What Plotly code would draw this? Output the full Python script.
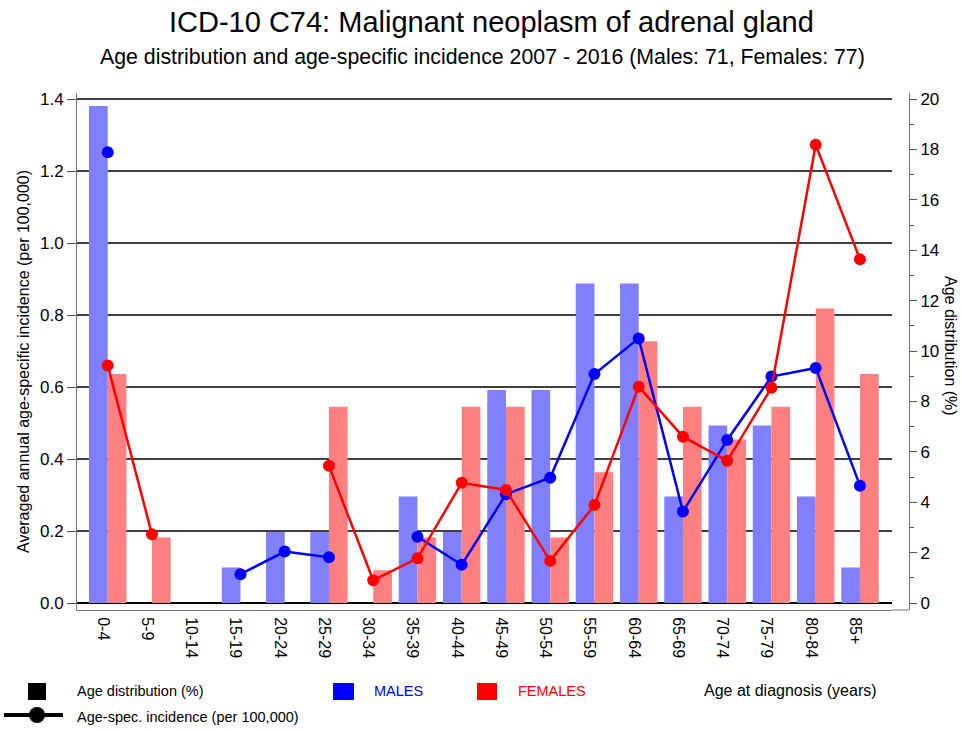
import plotly.graph_objects as go

# ---------------- data ----------------
age_groups = ["0-4", "5-9", "10-14", "15-19", "20-24", "25-29", "30-34", "35-39",
              "40-44", "45-49", "50-54", "55-59", "60-64", "65-69", "70-74",
              "75-79", "80-84", "85+"]

# age distribution (%)  -> right axis
male_dist = [19.72, 0, 0, 1.41, 2.82, 2.82, 0, 4.23, 2.82, 8.45, 8.45,
             12.68, 12.68, 4.23, 7.04, 7.04, 4.23, 1.41]
female_dist = [9.09, 2.60, 0, 0, 0, 7.79, 1.30, 2.60, 7.79, 7.79, 2.60,
               5.19, 10.39, 7.79, 6.49, 7.79, 11.69, 9.09]

# averaged annual age-specific incidence (per 100,000) -> left axis
male_inc = [1.252, None, None, 0.080, 0.143, 0.127, None, 0.184, 0.106, 0.302,
            0.348, 0.636, 0.735, 0.254, 0.453, 0.629, 0.653, 0.326]
female_inc = [0.660, 0.191, None, None, None, 0.381, 0.063, 0.124, 0.334, 0.314,
              0.117, 0.272, 0.601, 0.462, 0.395, 0.598, 1.273, 0.955]

inc_ticks = [0.0, 0.2, 0.4, 0.6, 0.8, 1.0, 1.2, 1.4]
dist_ticks = [0, 2, 4, 6, 8, 10, 12, 14, 16, 18, 20]

title_text = "ICD-10 C74: Malignant neoplasm of adrenal gland"
subtitle_text = "Age distribution and age-specific incidence 2007 - 2016 (Males: 71, Females: 77)"

# ---------------- geometry helpers (pixels -> paper) ----------------
W, H = 962, 731
ML, MR, MT, MB = 77, 53, 93, 121
PW, PH = W - ML - MR, H - MT - MB


def px(xp):
    return (xp - ML) / PW


def py(yp):
    return (H - MB - yp) / PH


FONT = "Liberation Sans, Arial, Helvetica, sans-serif"
BLUE_BAR, RED_BAR = "#8080FF", "#FF8080"
BLUE, RED = "#0000FF", "#FF0000"

fig = go.Figure()

fig.add_trace(go.Bar(x=age_groups, y=male_dist, name="MALES", marker_color=BLUE_BAR,
                     marker_line_width=0, yaxis="y", showlegend=False))
fig.add_trace(go.Bar(x=age_groups, y=female_dist, name="FEMALES", marker_color=RED_BAR,
                     marker_line_width=0, yaxis="y", showlegend=False))

fig.add_trace(go.Scatter(x=age_groups, y=male_inc, mode="lines+markers", yaxis="y2",
                         line=dict(color=BLUE, width=2.5), marker=dict(color=BLUE, size=12),
                         connectgaps=False, showlegend=False))
fig.add_trace(go.Scatter(x=age_groups, y=female_inc, mode="lines+markers", yaxis="y2",
                         line=dict(color=RED, width=2.5), marker=dict(color=RED, size=12),
                         connectgaps=False, showlegend=False))

x_dom_end = px(892)
inc_lo, inc_hi = -7 / 360, (603 - 93) / 360
k = 20 / 1.4

fig.update_layout(
    width=W, height=H,
    margin=dict(l=ML, r=MR, t=MT, b=MB, pad=0, autoexpand=False),
    paper_bgcolor="white", plot_bgcolor="white",
    font=dict(family=FONT, color="black", size=16),
    barmode="group", bargap=0.155, bargroupgap=0,
    showlegend=False,
    xaxis=dict(domain=[0, x_dom_end], type="category", range=[-0.694, -0.694 + 815 / 44.25],
               tickangle=90, ticks="", showgrid=False, zeroline=False, automargin=False,
               showline=True, linecolor="#777777", linewidth=1,
               ticklabelshift=-5, ticklabelstandoff=3,
               tickfont=dict(size=16), anchor="y2"),
    yaxis=dict(side="right", anchor="free", position=1.0, automargin=False,
               range=[inc_lo * k, inc_hi * k],
               tickvals=dist_ticks, ticks="outside", ticklen=7, tickcolor="#555555",
               minor=dict(dtick=1, ticks="outside", ticklen=4, tickcolor="#555555", showgrid=False),
               showgrid=False, zeroline=False, showline=True, linecolor="#777777", linewidth=1,
               tickfont=dict(size=17)),
    yaxis2=dict(side="left", overlaying="y", anchor="x", automargin=False,
                range=[inc_lo, inc_hi], tickvals=inc_ticks, tickformat=".1f",
                ticks="outside", ticklen=9, tickcolor="#555555",
                showgrid=True, gridcolor="#404040", gridwidth=1.5,
                zeroline=True, zerolinecolor="black", zerolinewidth=1.5,
                showline=True, linecolor="#777777", linewidth=1,
                tickfont=dict(size=17)),
)

annotations = [
    dict(text=title_text, x=px(491), y=py(22), xref="paper", yref="paper",
         showarrow=False, xanchor="center", yanchor="middle", font=dict(size=29)),
    dict(text=subtitle_text, x=px(482), y=py(57), xref="paper", yref="paper",
         showarrow=False, xanchor="center", yanchor="middle", font=dict(size=21.3)),
    dict(text="Averaged annual age-specific incidence (per 100,000)", x=px(23), y=py(362),
         xref="paper", yref="paper", showarrow=False, textangle=-90,
         xanchor="center", yanchor="middle", font=dict(size=16)),
    dict(text="Age distribution (%)", x=px(951), y=py(346), xref="paper", yref="paper",
         showarrow=False, textangle=90, xanchor="center", yanchor="middle", font=dict(size=16)),
    dict(text="Age distribution (%)", x=px(75), y=py(691), xref="paper", yref="paper",
         showarrow=False, xanchor="left", yanchor="middle", font=dict(size=14.5)),
    dict(text="Age-spec. incidence (per 100,000)", x=px(75), y=py(717), xref="paper", yref="paper",
         showarrow=False, xanchor="left", yanchor="middle", font=dict(size=14.5)),
    dict(text="MALES", x=px(372), y=py(691), xref="paper", yref="paper",
         showarrow=False, xanchor="left", yanchor="middle", font=dict(size=14.5, color=BLUE)),
    dict(text="FEMALES", x=px(516), y=py(691), xref="paper", yref="paper",
         showarrow=False, xanchor="left", yanchor="middle", font=dict(size=14.5, color=RED)),
    dict(text="Age at diagnosis (years)", x=px(702), y=py(690), xref="paper", yref="paper",
         showarrow=False, xanchor="left", yanchor="middle", font=dict(size=16)),
]
fig.update_layout(annotations=annotations)

# legend keys and bottom frame extension (decoration, paper coordinates)
shapes = [
    dict(type="line", xref="paper", yref="paper", x0=x_dom_end, x1=1, y0=0, y1=0,
         line=dict(color="#777777", width=1)),
    dict(type="rect", xref="paper", yref="paper", x0=px(28), x1=px(46), y0=py(700), y1=py(683),
         fillcolor="black", line=dict(width=0)),
    dict(type="line", xref="paper", yref="paper", x0=px(4), x1=px(63), y0=py(715), y1=py(715),
         line=dict(color="black", width=4)),
    dict(type="circle", xref="paper", yref="paper", x0=px(29), x1=px(45), y0=py(723), y1=py(707),
         fillcolor="black", line=dict(width=0)),
    dict(type="rect", xref="paper", yref="paper", x0=px(333), x1=px(354), y0=py(700), y1=py(683),
         fillcolor=BLUE, line=dict(width=0)),
    dict(type="rect", xref="paper", yref="paper", x0=px(477), x1=px(497), y0=py(700), y1=py(683),
         fillcolor=RED, line=dict(width=0)),
]
fig.update_layout(shapes=shapes)

fig.write_html("out.html", config=dict(displayModeBar=False),
               post_script="document.body.style.margin='0';document.body.style.overflow='hidden';")
